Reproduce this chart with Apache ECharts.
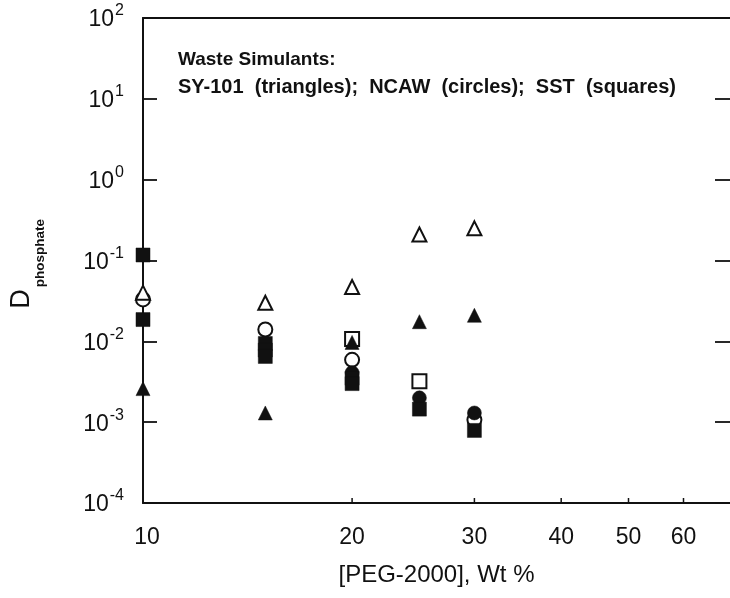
<!DOCTYPE html>
<html>
<head>
<meta charset="utf-8">
<script src="https://cdn.jsdelivr.net/npm/echarts@6/dist/echarts.min.js"></script>
<style>
html,body{margin:0;padding:0;background:#fff;}
#c{width:730px;height:598px;}
</style>
</head>
<body>
<div id="c"></div>
<script>
// ---- data (PEG-2000 wt %, D_phosphate) ----
const xTickValues = [10, 20, 30, 40, 50, 60];
const xMin = 10, xMax = 70;
const yMin = 1e-4, yMax = 1e2;

// SY-101 (triangles)
const sy101Open   = [[10, 0.040], [15, 0.030], [20, 0.047], [25, 0.21], [30, 0.25]];
const sy101Filled = [[10, 0.0026], [15, 0.0013], [20, 0.0097], [25, 0.0175], [30, 0.021]];
// NCAW (circles)
const ncawOpen    = [[10, 0.033], [15, 0.014], [20, 0.0059], [30, 0.00107]];
const ncawFilled  = [[20, 0.0041], [25, 0.0020], [30, 0.0013]];
// SST (squares)
const sstOpen     = [[20, 0.0107], [25, 0.0032]];
const sstFilled   = [[10, 0.117], [10, 0.0186], [15, 0.0094], [15, 0.0078], [15, 0.0065],
                     [20, 0.0035], [20, 0.0030], [25, 0.00145], [30, 0.00079]];

const noteLine1 = 'Waste Simulants:';
const noteLine2 = 'SY-101  (triangles);  NCAW  (circles);  SST  (squares)';
const xTitle = '[PEG-2000], Wt %';

const FONT = "'Liberation Sans', Arial, Helvetica, sans-serif";
const INK = '#111';

const chart = echarts.init(document.getElementById('c'), null, {renderer: 'canvas'});

function sc(name, data, symbol, filled) {
  return {
    name: name, type: 'scatter', data: data, symbol: symbol, symbolSize: 14,
    itemStyle: filled
      ? {color: INK, borderColor: INK, borderWidth: 0.5, opacity: 1}
      : {color: '#fff', borderColor: INK, borderWidth: 2, opacity: 1},
    emphasis: {disabled: true},
    animation: false
  };
}

const option = {
  animation: false,
  backgroundColor: '#fff',
  grid: {left: 143, top: 18, width: 592, height: 485},
  xAxis: [
    {
      type: 'log', logBase: 10, min: xMin, max: xMax, position: 'bottom',
      axisLine: {show: true, lineStyle: {color: INK, width: 2}},
      axisTick: {show: false}, axisLabel: {show: false}, splitLine: {show: false},
      name: xTitle, nameLocation: 'middle', nameGap: 60,
      nameTextStyle: {fontFamily: FONT, fontSize: 24, color: INK}
    },
    {
      type: 'log', logBase: 10, min: xMin, max: xMax, position: 'top',
      axisLine: {show: true, lineStyle: {color: INK, width: 2}},
      axisTick: {show: false}, axisLabel: {show: false}, splitLine: {show: false}
    }
  ],
  yAxis: [
    {
      type: 'log', logBase: 10, min: yMin, max: yMax, position: 'left',
      axisLine: {show: true, lineStyle: {color: INK, width: 2}},
      axisTick: {show: true, inside: true, length: 14, lineStyle: {color: INK, width: 1.8}},
      splitLine: {show: false},
      axisLabel: {
        margin: 19,
        formatter: function (v) {
          const e = Math.round(Math.log10(v));
          return '{b|10}{s|' + e + '}';
        },
        rich: {
          b: {fontFamily: FONT, fontSize: 23, color: INK, lineHeight: 30, padding: [4, 1, 0, 0]},
          s: {fontFamily: FONT, fontSize: 16, color: INK, lineHeight: 16, verticalAlign: 'top'}
        }
      }
    },
    {
      type: 'log', logBase: 10, min: yMin, max: yMax, position: 'right',
      axisLine: {show: false},
      axisTick: {show: true, inside: true, length: 15, lineStyle: {color: INK, width: 1.8}},
      axisLabel: {show: false}, splitLine: {show: false}
    }
  ],
  series: [
    sc('SST open', sstOpen, 'rect', false),
    sc('NCAW open', ncawOpen, 'circle', false),
    sc('SY-101 open', sy101Open, 'triangle', false),
    sc('NCAW filled', ncawFilled, 'circle', true),
    sc('SST filled', sstFilled, 'rect', true),
    sc('SY-101 filled', sy101Filled, 'triangle', true)
  ]
};
chart.setOption(option);

// axis decorations computed through the library's own scales
const yBottom = chart.convertToPixel({yAxisIndex: 0}, yMin);
const graphics = [];
xTickValues.forEach(function (v) {
  const px = chart.convertToPixel({xAxisIndex: 0}, v);
  graphics.push({
    type: 'text', x: px + (v === xMin ? 4 : 0), y: yBottom + 35, silent: true,
    style: {text: String(v), fontFamily: FONT, fontSize: 23, fill: INK,
            textAlign: 'center', textVerticalAlign: 'middle'}
  });
  if (v !== xMin) {
    graphics.push({
      type: 'line', silent: true,
      shape: {x1: px, y1: yBottom, x2: px, y2: yBottom - 5},
      style: {stroke: INK, lineWidth: 1.5}
    });
  }
});
// y-axis title D_phosphate
graphics.push({
  type: 'text', x: 22, y: 299, rotation: Math.PI / 2, silent: true,
  style: {text: 'D', fontFamily: FONT, fontSize: 27, fill: INK,
          textAlign: 'center', textVerticalAlign: 'middle'}
});
graphics.push({
  type: 'text', x: 40, y: 253, rotation: Math.PI / 2, silent: true,
  style: {text: 'phosphate', fontFamily: FONT, fontSize: 13.5, fontWeight: 'bold', fill: INK,
          textAlign: 'center', textVerticalAlign: 'middle'}
});
// annotation
graphics.push({
  type: 'text', x: 178, y: 60, silent: true,
  style: {text: noteLine1, fontFamily: FONT, fontSize: 19, fontWeight: 'bold', fill: INK,
          textAlign: 'left', textVerticalAlign: 'middle'}
});
graphics.push({
  type: 'text', x: 178, y: 87, silent: true,
  style: {text: noteLine2, fontFamily: FONT, fontSize: 20, fontWeight: 'bold', fill: INK,
          textAlign: 'left', textVerticalAlign: 'middle'}
});
chart.setOption({graphic: graphics});
</script>
</body>
</html>
